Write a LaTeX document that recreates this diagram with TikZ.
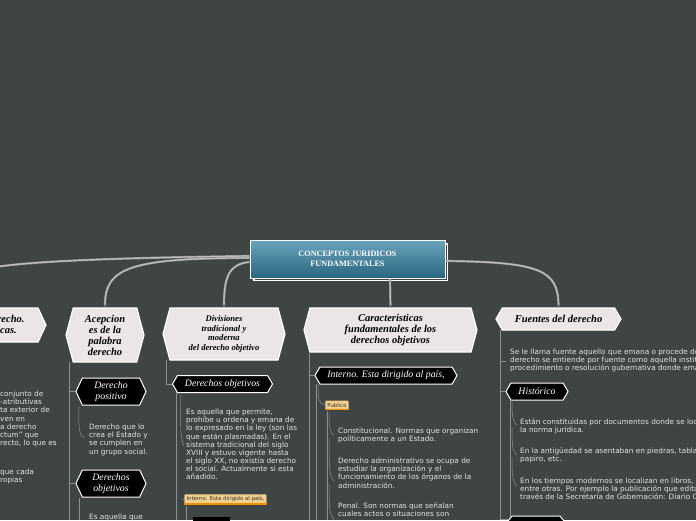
\documentclass[tikz,border=0pt]{standalone}
\usepackage{fontspec}
\setmainfont{DejaVu Sans}
\newfontfamily\hfont{Liberation Serif}
\usetikzlibrary{shapes.symbols,arrows.meta}
\definecolor{bg}{HTML}{3F4444}
\definecolor{lvl}{HTML}{EBE5E5}
\definecolor{tagc}{HTML}{F3D08E}
\definecolor{orng}{HTML}{F08C00}
\definecolor{linec}{HTML}{8E9090}
\definecolor{ctop}{HTML}{6AA3BC}
\definecolor{cbot}{HTML}{2A6680}
\begin{document}
\begin{tikzpicture}[x=1pt,y=-1pt,
  lone/.style={signal,signal to=east and west,draw=white,line width=1.2pt,fill=lvl,text=black,
     font=\hfont\bfseries\itshape\fontsize{10.5}{11}\selectfont,align=center,inner sep=1pt},
  ltwo/.style={signal,signal to=east and west,draw=white,line width=1pt,fill=black,text=white,
     font=\hfont\itshape\fontsize{9.8}{10.5}\selectfont,align=center,inner sep=1pt},
  body/.style={anchor=north west,text=white!90!black,align=left,inner sep=0pt,
     font=\fontsize{7.3}{8.1}\selectfont},
  tagbox/.style={fill=tagc,draw=tagc!80!black,rounded corners=1pt,text=black!80,
     font=\fontsize{5.4}{6}\selectfont,inner sep=2pt},
  conn/.style={draw=linec,double=white!75!black,double distance=1.2pt,line width=0.5pt},
  tree/.style={draw=linec,line width=0.9pt},
  twig/.style={draw=linec,line width=0.5pt}]
\fill[bg] (0,0) rectangle (696,520);
\useasboundingbox (0,0) rectangle (696,520);
\clip (0,0) rectangle (696,520);
% central
\fill[white] (253,243) rectangle (448,281);
\fill[bg] (254.5,244.5) rectangle (446.5,279.5);
\node[draw=white,line width=1pt,top color=ctop,bottom color=cbot,
  minimum width=195pt,minimum height=38pt,text=white,font=\hfont\bfseries\fontsize{8.2}{9.5}\selectfont,align=center]
  (c) at (347.5,259) {CONCEPTOS JURIDICOS\\FUNDAMENTALES};
% level one
\node[lone,minimum width=136pt,minimum height=34pt,signal pointer angle=130] (n1) at (-22,325) {Concepto de derecho.\\Normas jurídicas.};
\node[lone,minimum width=78pt,minimum height=54pt,signal pointer angle=150] (n2) at (105,335) {Acepcion\\es de la\\palabra\\derecho};
\node[lone,minimum width=122pt,minimum height=52pt,signal pointer angle=150,font=\hfont\bfseries\itshape\fontsize{8.6}{9.6}\selectfont] (n3) at (224,334) {Divisiones\\tradicional y\\moderna\\del derecho objetivo};
\node[lone,minimum width=173pt,minimum height=44pt,signal pointer angle=150] (n4) at (390.5,330) {Caracteristicas\\fundamentales de los\\derechos objetivos};
\node[lone,minimum width=125pt,minimum height=22pt,signal pointer angle=120] (n5) at (558.5,319) {Fuentes del derecho};
% connectors
\draw[conn] (c.west|-0,256) .. controls (100,258) and (10,262) .. (-20,270);
\draw[conn,-{Stealth[open,length=4pt]}] (c.west|-0,258) .. controls (130,258) and (105,268) .. (n2.north);
\draw[conn,-{Stealth[open,length=4pt]}] (c.west|-0,262) .. controls (230,264) and (224,275) .. (n3.north);
\draw[conn,-{Stealth[open,length=4pt]}] (390,279) -- (n4.north);
\draw[conn,-{Stealth[open,length=4pt]}] (c.east|-0,261) .. controls (540,262) and (558,270) .. (n5.north);
% left partial text
\node[body] (t1) at (0,391) {conjunto de\\-atributivas\\ta exterior de\\ven en\\a derecho\\ctum" que\\recto, lo que es};
\node[body] (t2) at (0,469) {que cada\\ropias};
% column 2
\coordinate (a0) at (69,362);
\draw[tree] (a0) -- (69,520);
\node[ltwo,minimum width=70pt,minimum height=27pt,signal pointer angle=130] (p1) at (111,391.5) {Derecho\\positivo};
\node[ltwo,minimum width=70pt,minimum height=27pt,signal pointer angle=130] (p2) at (111,483.5) {Derechos\\objetivos};
\draw[twig] (69,391.5) -- (p1.west);
\draw[twig] (69,483.5) -- (p2.west);
\node[body] (pt1) at (89,424) {Derecho que lo\\crea el Estado y\\se cumplen en\\un grupo social.};
\draw[twig] (79,406) .. controls (78,430) and (80,436) .. (84,438);
\draw[twig] (79,498) -- (79,520);
\node[body] (pt2) at (89,514) {Es aquella que};
% column 3
\node[ltwo,minimum width=100pt,minimum height=17pt,signal pointer angle=120] (d1) at (222.5,384) {Derechos objetivos};
\draw[twig] (166,360) |- (d1.west);
\draw[tree] (176,392) -- (176,520);
\node[body] (dt1) at (186,409) {Es aquella que permite,\\prohíbe u ordena y emana de\\lo expresado en la ley (son las\\que están plasmadas). En el\\sistema tradicional del siglo\\XVIII y estuvo vigente hasta\\el siglo XX, no existía derecho\\el social. Actualmente si esta\\añadido.};
\draw[twig] (181,395) .. controls (180,430) and (181,440) .. (184,446);
\node[tagbox] (dg) at (225.5,499) {Interno. Esta dirigido al país,};
\draw[orng,line width=1.5pt] (dg.south west) -- (dg.south east);
\draw[twig] (182,500) -- (dg.west);
\draw[twig] (186,506) -- (186,520);
\fill[black] (193,517) rectangle (230,521);
% column 4
\draw[tree] (309,352) -- (309,520);
\node[ltwo,minimum width=142pt,minimum height=17pt,signal pointer angle=120] (i1) at (386,375.5) {Interno. Esta dirigido al país,};
\draw[twig] (309,375.5) -- (i1.west);
\draw[tree] (316,384) -- (316,520);
\node[tagbox] (pb) at (337,405) {Publico};
\draw[orng,line width=1.5pt] (pb.south west) -- (pb.south east);
\draw[twig] (318,384) .. controls (318,400) and (319,404) .. (pb.west);
\draw[tree] (327,411) -- (327,520);
\node[body] (it1) at (338,428) {Constitucional. Normas que organizan\\políticamente a un Estado.};
\node[body] (it2) at (338,458) {Derecho administrativo se ocupa de\\estudiar la organización y el\\funcionamiento de los órganos de la\\administración.};
\node[body] (it3) at (338,503) {Penal. Son normas que señalan\\cuales actos o situaciones son};
\draw[twig] (329,413) .. controls (329,428) and (330,432) .. (334,435);
\draw[twig] (329,438) .. controls (329,470) and (330,478) .. (334,481);
\draw[twig] (329,484) .. controls (329,510) and (330,515) .. (334,520);
% column 5
\draw[tree] (500,330) -- (500,520);
\node[body] (ft) at (510,349) {Se le llama fuente aquello que emana o procede de algo. En\\derecho se entiende por fuente como aquella institución, acto,\\procedimiento o resolución gubernativa donde emana la norma};
\draw[twig] (500,361) -- (506,361);
\node[ltwo,minimum width=62pt,minimum height=17pt,signal pointer angle=120] (h1) at (537,391.5) {Histórico};
\draw[twig] (500,391.5) -- (h1.west);
\draw[tree] (510,400) -- (510,520);
\node[body] (ht1) at (520,418) {Están constituidas por documentos donde se localiza el texto de\\la norma jurídica.};
\node[body] (ht2) at (520,448) {En la antigüedad se asentaban en piedras, tablas de arcilla,\\papiro, etc.};
\node[body] (ht3) at (520,478) {En los tiempos modernos se localizan en libros, documentos,\\entre otras. Por ejemplo la publicación que edita el gobierno a\\través de la Secretaría de Gobernación: Diario Oficial de la};
\draw[twig] (512,402) .. controls (512,418) and (513,422) .. (517,425);
\draw[twig] (512,428) .. controls (512,448) and (513,452) .. (517,455);
\draw[twig] (512,458) .. controls (512,478) and (513,482) .. (517,486);
\draw[white,line width=1pt,fill=black] (508,521) -- (512,516) -- (560,516) -- (564,521);
\draw[twig] (500,519) -- (508,519);
\end{tikzpicture}
\end{document}
